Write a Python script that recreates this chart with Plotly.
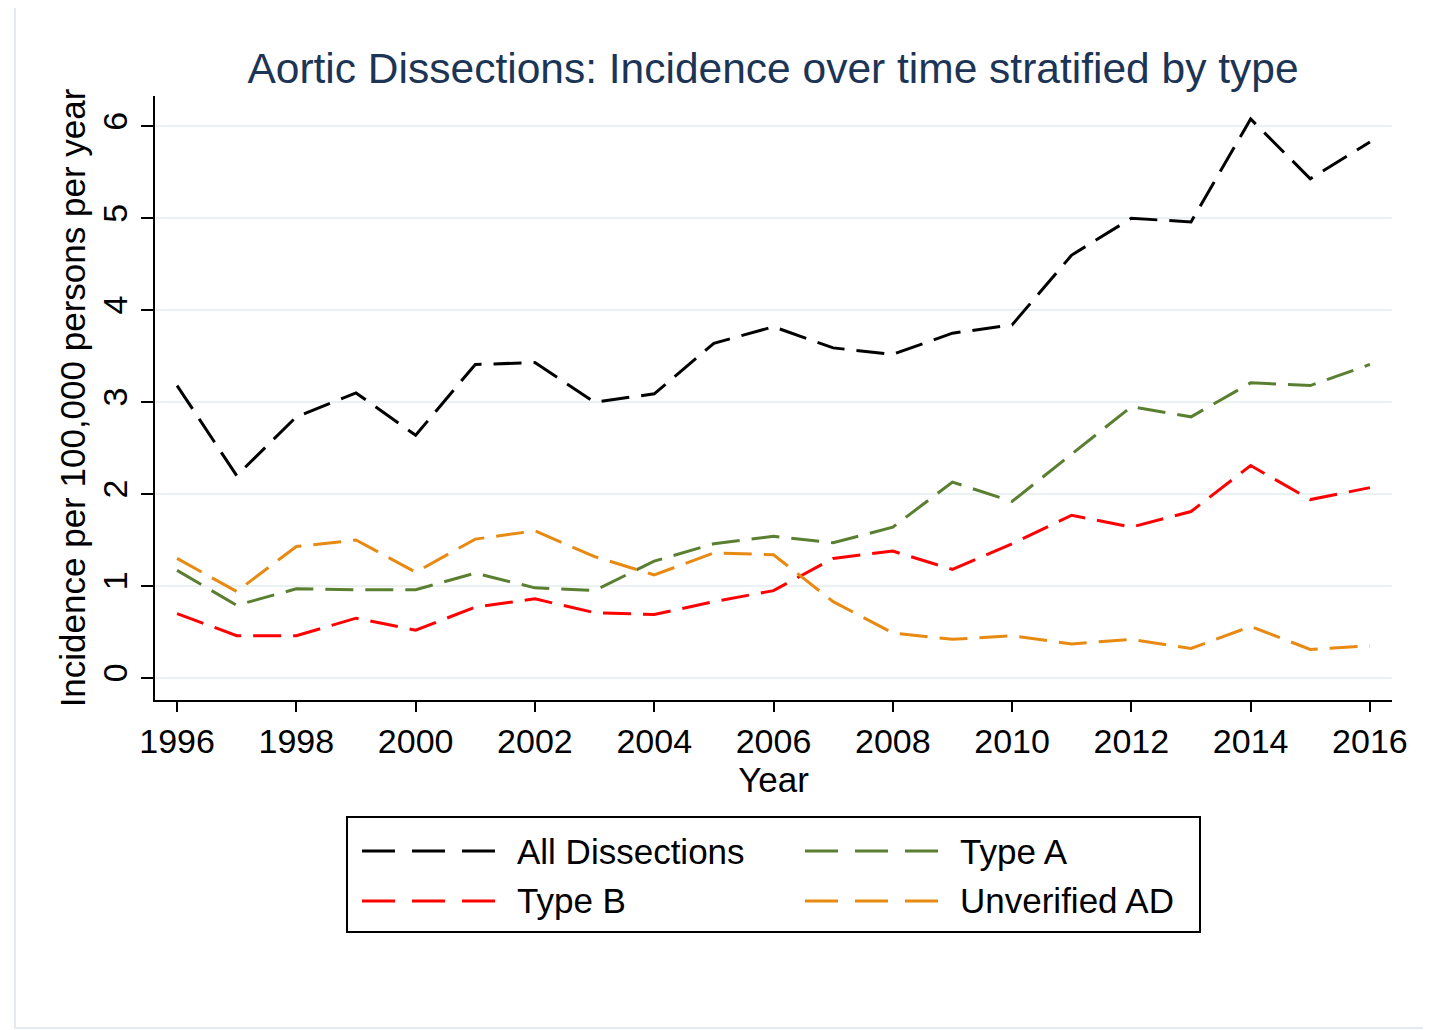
import plotly.graph_objects as go

years = list(range(1996, 2017))
series_names = ["All Dissections", "Type A", "Type B", "Unverified AD"]
all_dissections = [3.18, 2.20, 2.84, 3.10, 2.64, 3.41, 3.43, 3.00, 3.09, 3.64, 3.82,
                   3.59, 3.52, 3.75, 3.84, 4.60, 5.00, 4.96, 6.08, 5.43, 5.83]
type_a = [1.17, 0.79, 0.97, 0.96, 0.96, 1.14, 0.98, 0.95, 1.27, 1.46, 1.54,
          1.47, 1.64, 2.13, 1.92, 2.43, 2.95, 2.84, 3.21, 3.18, 3.41]
type_b = [0.70, 0.46, 0.46, 0.65, 0.52, 0.77, 0.86, 0.71, 0.69, 0.83, 0.95,
          1.30, 1.38, 1.18, 1.46, 1.77, 1.64, 1.81, 2.31, 1.94, 2.07]
unverified = [1.30, 0.94, 1.43, 1.50, 1.15, 1.51, 1.60, 1.32, 1.12, 1.36, 1.34,
              0.83, 0.49, 0.42, 0.46, 0.37, 0.42, 0.32, 0.56, 0.31, 0.35]
x_ticks = list(range(1996, 2017, 2))
y_ticks = [0, 1, 2, 3, 4, 5, 6]

colors = ["#000000", "#5a7f31", "#ff0000", "#e88a12"]
values = [all_dissections, type_a, type_b, unverified]

O = 8  # page body margin offset
W, H = 1431 - O, 1030 - O
L, R, T, B = 155 - O, 1392 - O, 96 - O, 700 - O

def px(x):
    return (x - O - L) / (R - L)

def py(y):
    return (B - (y - O)) / (B - T)

FONT = "Liberation Sans, Arial, sans-serif"

fig = go.Figure()
for name, vals, col in zip(series_names, values, colors):
    fig.add_trace(go.Scatter(x=years, y=vals, mode="lines", name=name,
                             line=dict(color=col, width=3, dash="28px,12px"),
                             showlegend=False))

shapes = []
annotations = []
# outer faint border
shapes.append(dict(type="rect", xref="paper", yref="paper",
                   x0=px(15), x1=px(1428), y0=py(1028), y1=py(5),
                   line=dict(color="#e4eaee", width=2), layer="below"))
# legend box
shapes.append(dict(type="rect", xref="paper", yref="paper",
                   x0=px(347), x1=px(1200), y0=py(932), y1=py(817),
                   line=dict(color="#000000", width=2)))
leg_pos = [(362, 851), (805, 851), (362, 901), (805, 901)]
for (lx, ly), name, col in zip(leg_pos, series_names, colors):
    shapes.append(dict(type="line", xref="paper", yref="paper",
                       x0=px(lx), x1=px(lx + 133), y0=py(ly), y1=py(ly),
                       line=dict(color=col, width=3, dash="33px,17px")))
    annotations.append(dict(x=px(lx + 153), y=py(ly), xref="paper", yref="paper",
                            text=name, showarrow=False, xanchor="left", yanchor="middle",
                            font=dict(family=FONT, size=35, color="#000000")))

fig.update_layout(
    width=W, height=H,
    margin=dict(l=L, r=W - R, t=T, b=H - B),
    paper_bgcolor="white", plot_bgcolor="white",
    font=dict(family=FONT, color="#000000"),
    title=dict(text="Aortic Dissections: Incidence over time stratified by type",
               x=(773 - O) / W, xanchor="center", y=1 - (68 - O) / H, yanchor="middle",
               font=dict(family=FONT, size=42.5, color="#1c3455")),
    shapes=shapes, annotations=annotations,
    showlegend=False,
)
fig.update_xaxes(range=[1995.63, 2016.37], tickvals=x_ticks,
                 ticks="outside", ticklen=10, tickwidth=2, tickcolor="#000000",
                 showline=True, linecolor="#000000", linewidth=2, mirror=False,
                 showgrid=False, zeroline=False,
                 tickfont=dict(family=FONT, size=34, color="#000000"),
                 title=dict(text="Year", standoff=2,
                            font=dict(family=FONT, size=35, color="#000000")))
fig.update_yaxes(range=[-0.24, 6.33], tickvals=y_ticks, tickangle=-90,
                 ticks="outside", ticklen=12, tickwidth=2, tickcolor="#000000",
                 showline=True, linecolor="#000000", linewidth=2, mirror=False,
                 showgrid=True, gridcolor="#eaf1f3", gridwidth=2, zeroline=False,
                 tickfont=dict(family=FONT, size=34, color="#000000"),
                 title=dict(text="Incidence per 100,000 persons per year", standoff=0,
                            font=dict(family=FONT, size=35, color="#000000")))

fig.write_html("out.html")
